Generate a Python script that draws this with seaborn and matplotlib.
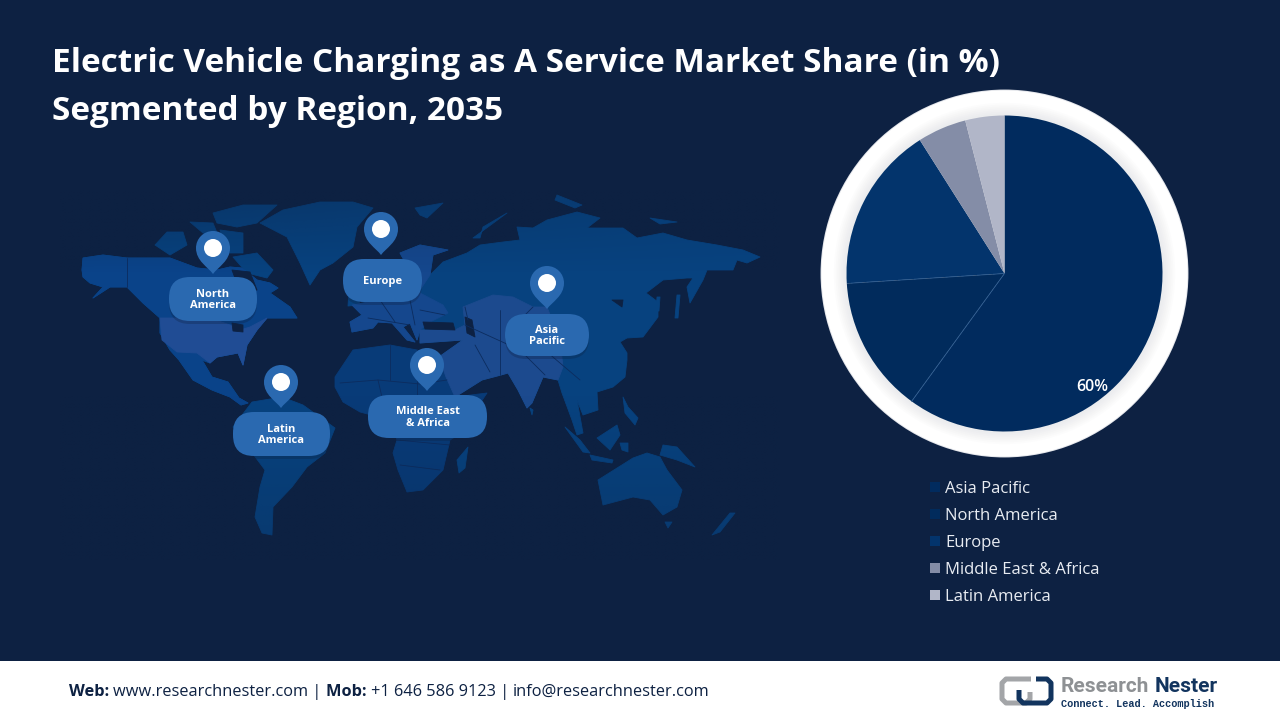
import numpy as np
import matplotlib
matplotlib.use("Agg")
import matplotlib.pyplot as plt
from matplotlib.patches import Circle, Ellipse, FancyBboxPatch, PathPatch, Polygon, Rectangle
from matplotlib.path import Path
import seaborn as sns

# values
regions = ["Asia Pacific", "North America", "Europe", "Middle East & Africa", "Latin America"]
shares = [60, 14, 17, 5, 4]
slice_colors = ["#012B5E", "#012B5C", "#03346C", "#848DA7", "#B1B6C8"]
shown_label = "60%"

title_lines = ["Electric Vehicle Charging as A Service Market Share (in %)", "Segmented by Region, 2035"]
footer_parts = [("Web: ", "bold"), ("www.researchnester.com | ", "normal"), ("Mob: ", "bold"),
                ("+1 646 586 9123 | ", "normal"), ("info@researchnester.com", "normal")]

BG = "#0D2142"
PIN = "#2A69B0"
FONT = ["Open Sans", "DejaVu Sans"]

# map callouts: label, pin centre, pill box (x0, y0, x1, y1)
callouts = [
    ("North\nAmerica", (213, 248), (169, 277, 257, 321)),
    ("Europe", (381, 229), (343, 259, 422, 302)),
    ("Asia\nPacific", (547, 283), (505, 314, 589, 356)),
    ("Latin\nAmerica", (281, 382), (233, 412, 330, 456)),
    ("Middle East\n& Africa", (427, 365), (368, 395, 487, 438)),
]

# rough world outline in picture pixels, background decoration only
north_america = [(82, 270), (83, 258), (103, 255), (127, 258), (153, 258), (170, 258), (197, 268), (217, 270),
                 (230, 267), (242, 268), (257, 280), (270, 283), (278, 288), (270, 293), (290, 307), (297, 318),
                 (267, 318), (257, 330), (247, 345), (243, 365), (238, 353), (217, 357), (210, 363), (202, 360),
                 (212, 377), (228, 382), (239, 398), (248, 403), (241, 405), (230, 397), (212, 390), (193, 380),
                 (179, 360), (170, 350), (160, 333), (160, 318), (143, 303), (127, 287), (110, 287), (93, 298),
                 (103, 287), (90, 283), (83, 277)]
usa = [(160, 318), (210, 318), (230, 325), (240, 330), (250, 327), (267, 318), (257, 330), (247, 345), (243, 365),
       (238, 353), (217, 357), (210, 363), (197, 353), (177, 352), (162, 340)]
arctic = [[(155, 245), (167, 232), (183, 232), (187, 245), (170, 255)],
          [(213, 213), (243, 205), (277, 205), (257, 223), (237, 227), (217, 223)],
          [(190, 222), (213, 223), (220, 240), (203, 233)],
          [(233, 257), (257, 253), (273, 270), (267, 278), (247, 273)],
          [(220, 230), (243, 233), (243, 253), (227, 253)],
          [(415, 208), (443, 203), (427, 218), (420, 215)],
          [(473, 238), (507, 213), (483, 227), (480, 238)],
          [(557, 195), (582, 205), (575, 208), (555, 200)],
          [(650, 218), (677, 222), (660, 224)]]
greenland = [(260, 223), (283, 210), (320, 202), (353, 202), (373, 208), (357, 227), (353, 247), (333, 263),
             (320, 270), (310, 285), (300, 263), (287, 237)]
eurasia = [(352, 332), (350, 322), (362, 315), (352, 305), (380, 300), (400, 295), (405, 262), (400, 253), (420, 245),
           (448, 250), (433, 255), (430, 275), (443, 262), (467, 253), (480, 245), (503, 242), (520, 240), (517, 227),
           (533, 228), (547, 220), (577, 212), (600, 218), (587, 228), (623, 228), (637, 238), (663, 233), (687, 240),
           (717, 245), (743, 250), (760, 257), (747, 263), (737, 260), (733, 270), (707, 270), (703, 280), (690, 303),
           (687, 287), (693, 278), (687, 278), (663, 280), (646, 293), (658, 302), (658, 317), (643, 337), (627, 338),
           (620, 342), (627, 353), (627, 360), (625, 377), (613, 387), (597, 392), (598, 410), (583, 415), (577, 400),
           (583, 433), (577, 435), (572, 420), (562, 393), (558, 380), (543, 377), (532, 403), (527, 408), (518, 390),
           (508, 373), (501, 375), (482, 380), (455, 397), (446, 377), (439, 357), (446, 352), (463, 340), (420, 343),
           (420, 330), (417, 340), (410, 323), (403, 327), (415, 342), (407, 340), (392, 323), (378, 322), (373, 328)]
europe = [(352, 332), (373, 328), (378, 322), (392, 323), (407, 340), (415, 342), (403, 327), (410, 323), (417, 340),
          (420, 330), (430, 322), (448, 313), (443, 305), (420, 293), (420, 280), (410, 300), (380, 300), (352, 305),
          (362, 315), (350, 322)]
scandinavia = [(405, 262), (400, 253), (420, 245), (448, 250), (433, 255), (430, 275), (420, 290), (405, 290)]
mid_asia = [(463, 307), (493, 295), (513, 297), (533, 307), (547, 307), (560, 340), (563, 367), (558, 380), (543, 377),
            (532, 403), (527, 408), (518, 390), (508, 373), (501, 375), (482, 380), (455, 397), (446, 377), (439, 357),
            (446, 352), (463, 340), (420, 343), (420, 330), (455, 330), (465, 325)]
africa = [(335, 377), (353, 350), (390, 345), (417, 350), (439, 357), (447, 377), (455, 397), (487, 393), (469, 420),
          (455, 437), (450, 440), (443, 470), (423, 490), (407, 492), (398, 470), (393, 453), (397, 440), (390, 420),
          (360, 412), (343, 402), (335, 387)]
south_america = [(252, 402), (282, 397), (303, 405), (335, 428), (325, 453), (307, 467), (292, 487), (273, 507),
                 (272, 535), (262, 533), (255, 517), (260, 487), (265, 470), (250, 450), (233, 427)]
australia = [(598, 480), (633, 458), (647, 453), (660, 457), (667, 470), (682, 490), (677, 507), (663, 515), (650, 500),
             (633, 497), (603, 505)]
islands = [[(665, 522), (672, 522), (668, 528)],
           [(712, 535), (730, 513), (735, 513), (720, 532)],
           [(663, 445), (677, 447), (695, 467), (677, 460), (660, 455)],
           [(597, 438), (617, 425), (620, 435), (610, 450)],
           [(565, 427), (580, 440), (590, 453), (583, 452)],
           [(590, 455), (613, 460), (612, 463), (592, 460)],
           [(620, 443), (628, 443), (628, 452), (622, 450)],
           [(623, 397), (628, 407), (638, 418), (635, 425), (625, 413)],
           [(677, 295), (680, 295), (678, 318), (675, 318)],
           [(657, 297), (660, 297), (659, 311), (656, 311)],
           [(530, 408), (533, 410), (532, 415)],
           [(457, 460), (468, 447), (465, 468), (459, 473)],
           [(349, 290), (356, 290), (360, 305), (348, 306)]]
inland = [[(423, 322), (453, 323), (455, 330), (425, 329)],
          [(465, 317), (472, 320), (475, 337), (467, 333)],
          [(612, 300), (623, 300), (622, 307)],
          [(232, 323), (243, 325), (243, 332), (233, 331)],
          [(232, 270), (250, 272), (257, 290), (240, 292)]]
borders = [[(340, 383), (378, 380), (385, 410)], [(378, 380), (420, 384), (447, 380)], [(390, 345), (390, 380)],
           [(417, 350), (417, 395)], [(397, 440), (450, 445)], [(400, 465), (440, 470)],
           [(368, 318), (410, 325)], [(380, 300), (395, 322)], [(410, 300), (415, 325)], [(420, 310), (445, 315)],
           [(465, 325), (520, 350)], [(500, 310), (500, 375)], [(475, 345), (490, 372)], [(520, 350), (545, 375)],
           [(533, 307), (510, 330)], [(465, 307), (468, 320)], [(547, 352), (580, 380)], [(127, 258), (127, 287)]]

sns.set_theme(style="white")
plt.rcParams["font.family"] = FONT
palette = sns.color_palette(slice_colors)

fig = plt.figure(figsize=(12.8, 7.2), dpi=100, facecolor=BG)
canvas = fig.add_axes([0, 0, 1, 1])
canvas.set_xlim(0, 1280)
canvas.set_ylim(720, 0)
canvas.axis("off")


def land(pts, color, z=1):
    canvas.add_patch(Polygon(pts, closed=True, fc=color, ec=color, lw=0.6, joinstyle="round", zorder=z))


# world map
for shape in [north_america, greenland, eurasia, south_america, australia] + arctic + islands:
    land(shape, "#07427F")
land(north_america, "#0A4389", 1)
land(africa, "#083B78", 1)
land(usa, "#204C94", 2)
land(europe, "#15478D", 2)
land(scandinavia, "#15478D", 2)
land(mid_asia, "#1C4A8E", 2)
for shape in inland:
    land(shape, BG, 3)
for line in borders:
    xs, ys = zip(*line)
    canvas.plot(xs, ys, color="#0C2C5E", lw=0.6, zorder=3)

# map fades out at the top left and towards the bottom
fade = np.zeros((100, 100, 4))
fade[..., :3] = matplotlib.colors.to_rgb(BG)
yy, xx = np.mgrid[0:1:100j, 0:1:100j]
fade[..., 3] = np.clip((0.22 - yy) * 2.0 * (1.0 - xx * 0.7), 0, 0.4) + np.clip((yy - 0.55) * 0.6, 0, 0.3)
canvas.imshow(fade, extent=(60, 780, 560, 190), aspect="auto", zorder=4, interpolation="bilinear")
canvas.set_xlim(0, 1280)
canvas.set_ylim(720, 0)

# pins and pills
for label, (px, py), (x0, y0, x1, y1) in callouts:
    canvas.add_patch(FancyBboxPatch((x0, y0 + 3), x1 - x0, y1 - y0, boxstyle="round,pad=0,rounding_size=21",
                                    fc=BG, ec="none", alpha=0.3, zorder=4.5))
    canvas.add_patch(FancyBboxPatch((x0, y0), x1 - x0, y1 - y0, boxstyle="round,pad=0,rounding_size=21",
                                    fc=PIN, ec="none", zorder=5))
    verts = [(px, py + 26), (px - 5, py + 19), (px - 17, py + 13), (px - 17, py),
             (px - 17, py - 9.4), (px - 9.4, py - 17), (px, py - 17),
             (px + 9.4, py - 17), (px + 17, py - 9.4), (px + 17, py),
             (px + 17, py + 13), (px + 5, py + 19), (px, py + 26)]
    codes = [Path.MOVETO] + [Path.CURVE4] * 12
    canvas.add_patch(PathPatch(Path(verts, codes), fc=PIN, ec="none", zorder=5))
    canvas.add_patch(Ellipse((px, py), 18, 18, fc="white", ec="none", zorder=6))
    canvas.text((x0 + x1) / 2, (y0 + y1) / 2 + 1, label, color="white", fontsize=8, fontweight="bold",
                ha="center", va="center", linespacing=1.05, zorder=7)

# title
canvas.text(52, 63, title_lines[0], color="white", fontsize=24, fontweight="bold", va="center", zorder=8)
canvas.text(52, 111, title_lines[1], color="white", fontsize=24, fontweight="bold", va="center", zorder=8)

# footer band
canvas.add_patch(Rectangle((0, 661), 1280, 59, fc="white", ec="none", zorder=8))
renderer = fig.canvas.get_renderer()
x_pos = 69
for part, weight in footer_parts:
    canvas.text(x_pos, 691.5, part, color="#0D2142", fontsize=11.8, fontweight=weight, va="center", zorder=9)
    # trailing spaces are not measured, so measure a no-break copy
    probe = canvas.text(x_pos, 691.5, part.replace(" ", "\u00a0"), fontsize=11.8, fontweight=weight, alpha=0)
    x_pos = probe.get_window_extent(renderer).x1
    probe.remove()

# logo
grey_x, grey_y = [1031, 1006, 1002, 1002, 1006, 1026, 1030, 1030], [679, 679, 683, 699, 703, 703, 699, 692]
navy_x, navy_y = [1036, 1047, 1051, 1051, 1047, 1023, 1019, 1019], [679, 679, 683, 699, 703, 703, 699, 690]
canvas.plot(grey_x, grey_y, color="#A3A5A8", lw=3.6, solid_joinstyle="round", solid_capstyle="butt", zorder=9)
canvas.plot(navy_x, navy_y, color="#12345E", lw=3.6, solid_joinstyle="round", solid_capstyle="butt", zorder=10)
canvas.text(1061, 686, "Research", color="#8E9194", fontsize=15, fontweight="bold", family="Roboto", va="center", zorder=9)
canvas.text(1155, 686, "Nester", color="#12345E", fontsize=15, fontweight="bold", family="Roboto", va="center", zorder=9)
canvas.text(1061, 704, "Connect. Lead. Accomplish", color="#12345E", fontsize=7.4, fontweight="bold",
            family=["Liberation Mono", "DejaVu Sans Mono"], va="center", zorder=9)

# pie, centre (1004.5, 273.5), radius 158 px
half = 190
ax = fig.add_axes([(1004.5 - half) / 1280, 1 - (273.5 + half) / 720, 2 * half / 1280, 2 * half / 720])
ax.patch.set_alpha(0)
ax.axis("off")
wedges, _ = ax.pie(shares, colors=palette, startangle=90, counterclock=False, radius=1,
                   wedgeprops={"linewidth": 0, "zorder": 5})
lim = half / 158
ax.set_xlim(-lim, lim)
ax.set_ylim(-lim, lim)

# white ring with soft inner shadow
ring_r = 183 / 158
ax.add_patch(Circle((0, 0), ring_r + 0.006, fc="#E4E6EB", ec="none", zorder=1))
ax.add_patch(Circle((0, 0), ring_r, fc="white", ec="none", zorder=2))
for r in np.linspace(1.08, 1.0, 8):
    ax.add_patch(Circle((0, 0), r, fc=(0.78, 0.79, 0.82), alpha=0.05, ec="none", zorder=3))

# hairlines between the two darkest slices
for w, style in [(wedges[0], "-"), (wedges[1], (0, (14, 5)))]:
    a = np.deg2rad(w.theta1)
    ax.plot([0, np.cos(a)], [0, np.sin(a)], color="#2F5C90", lw=0.6, ls=style, zorder=6)

ax.text(0.554, -0.718, shown_label, color="white", fontsize=11.5, fontweight="semibold",
        ha="center", va="center", zorder=7)

leg = fig.legend(wedges, regions, loc="upper left", bbox_to_anchor=(915 / 1280, 1 - 466 / 720), frameon=False,
                 fontsize=12, handlelength=0.6, handleheight=0.6, handletextpad=0.3, labelspacing=0.66,
                 labelcolor="#E8ECF2", borderpad=0.4)

fig.savefig("out.png", dpi=100, facecolor=BG)
